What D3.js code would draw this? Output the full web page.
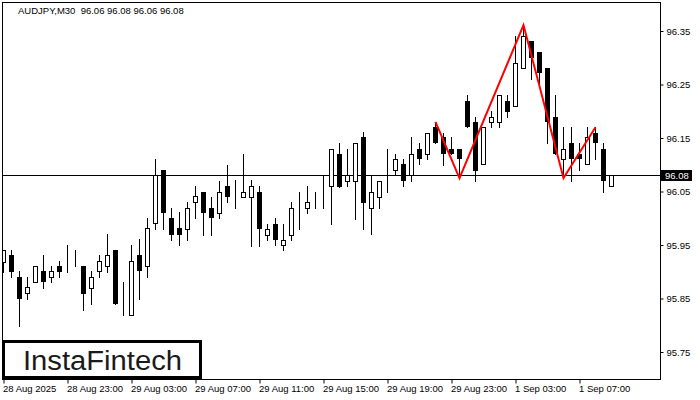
<!DOCTYPE html>
<html>
<head>
<meta charset="utf-8">
<script src="https://cdn.jsdelivr.net/npm/d3@7"></script>
<style>
html,body{margin:0;padding:0;background:#fff;}
svg{display:block;}
text{font-family:"Liberation Sans",Arial,sans-serif;}
</style>
</head>
<body>
<svg id="chart" width="700" height="400"></svg>
<script>
// ---- data (AUDJPY, M30) ----
const opens  = [95.919,95.931,95.890,95.860,95.880,95.901,95.890,95.910,95.910,95.920,
                95.910,95.870,95.901,95.910,95.941,95.830,95.820,95.931,95.910,95.991,
                96.090,96.000,95.981,95.980,96.030,96.050,96.020,96.010,96.060,96.050,
                96.040,96.040,96.050,95.969,95.990,95.950,95.969,96.030,96.020,96.040,
                96.051,96.060,96.120,96.070,96.070,96.151,96.020,96.040,96.081,96.090,
                96.101,96.081,96.130,96.121,96.170,96.151,96.130,96.130,96.220,96.180,
                96.101,96.180,96.180,96.220,96.210,96.280,96.331,96.310,96.281,96.190,
                96.110,96.140,96.120,96.101,96.160,96.130,96.060];
const highs  = [95.941,95.941,95.901,95.890,95.910,95.931,95.910,95.920,95.950,95.941,
                95.910,95.901,95.931,95.971,95.941,95.881,95.950,95.961,96.000,96.111,
                96.090,96.020,96.011,96.030,96.060,96.050,96.040,96.070,96.100,96.071,
                96.121,96.071,96.060,95.990,96.000,95.990,96.030,96.050,96.060,96.050,
                96.081,96.130,96.140,96.130,96.140,96.161,96.081,96.070,96.130,96.120,
                96.110,96.151,96.140,96.160,96.180,96.160,96.151,96.130,96.230,96.190,
                96.170,96.200,96.230,96.230,96.341,96.358,96.331,96.310,96.281,96.230,
                96.170,96.170,96.140,96.170,96.170,96.140,96.080];
const lows   = [95.900,95.890,95.799,95.850,95.880,95.870,95.880,95.890,95.900,95.910,
                95.829,95.840,95.890,95.900,95.840,95.820,95.820,95.850,95.890,95.980,
                95.980,95.960,95.950,95.960,96.000,95.969,95.969,96.000,96.030,96.019,
                96.040,95.948,95.948,95.960,95.950,95.940,95.960,95.980,96.010,96.019,
                96.020,95.989,96.059,96.060,95.999,95.980,95.970,96.020,96.050,96.081,
                96.060,96.070,96.101,96.110,96.140,96.100,96.120,96.075,96.170,96.070,
                96.101,96.170,96.170,96.190,96.210,96.280,96.260,96.250,96.140,96.121,
                96.075,96.070,96.090,96.101,96.110,96.050,96.060];
const closes = [95.941,95.900,95.850,95.871,95.910,95.880,95.901,95.900,95.911,95.920,
                95.859,95.890,95.920,95.931,95.840,95.830,95.920,95.901,95.981,96.080,
                96.010,95.969,95.969,96.020,96.041,96.010,96.000,96.050,96.040,96.050,
                96.050,96.060,95.980,95.980,95.960,95.960,96.020,96.030,96.030,96.040,
                96.051,96.130,96.059,96.080,96.140,96.029,96.050,96.070,96.081,96.110,
                96.070,96.121,96.110,96.160,96.140,96.121,96.121,96.110,96.170,96.089,
                96.170,96.190,96.230,96.199,96.291,96.340,96.300,96.271,96.180,96.121,
                96.130,96.110,96.110,96.151,96.140,96.070,96.080];

// head & shoulders pattern points: [bar index, price]
const patternIdx    = [54, 57, 65, 70, 74];
const patternPrices = [96.18, 96.075, 96.361, 96.075, 96.17];

const currentPrice = 96.08;
const yTicks = [95.75, 95.85, 95.95, 96.05, 96.15, 96.25, 96.35];
const xTickIdx = [0, 8, 16, 24, 32, 40, 48, 56, 64, 72];
const xTickLabels = ["28 Aug 2025","28 Aug 23:00","29 Aug 03:00","29 Aug 07:00","29 Aug 11:00",
                     "29 Aug 15:00","29 Aug 19:00","29 Aug 23:00","1 Sep 03:00","1 Sep 07:00"];
const title = "AUDJPY,M30  96.06 96.08 96.06 96.08";

// ---- drawing ----
const svg = d3.select("#chart");
const plot = {left: 2.5, top: 2.5, right: 660.5, bottom: 379.5};

const x = d3.scaleLinear().domain([0, opens.length - 1]).range([3.5, 3.5 + 8 * (opens.length - 1)]);
const y = d3.scaleLinear().domain([95.75, 96.35]).range([352, 31]);
const py = v => Math.round(y(v));

svg.append("clipPath").attr("id","pc").append("rect")
  .attr("x", plot.left).attr("y", plot.top)
  .attr("width", plot.right - plot.left).attr("height", plot.bottom - plot.top);

const g = svg.append("g").attr("clip-path","url(#pc)");

// current price line
g.append("line")
  .attr("x1", plot.left).attr("x2", plot.right)
  .attr("y1", py(currentPrice) + 0.5).attr("y2", py(currentPrice) + 0.5)
  .attr("stroke","#000").attr("stroke-width",1);

const bars = d3.range(opens.length);
// wicks
g.selectAll("line.wick").data(bars).join("line").attr("class","wick")
  .attr("x1", i => x(i)).attr("x2", i => x(i))
  .attr("y1", i => py(highs[i])).attr("y2", i => py(lows[i]) + 1)
  .attr("stroke","#000").attr("stroke-width",1);

// bodies
g.selectAll("rect.body").data(bars).join("rect").attr("class","body")
  .each(function(i){
    const o = opens[i], c = closes[i];
    const top = py(Math.max(o,c)), bot = py(Math.min(o,c));
    const sel = d3.select(this);
    if (c >= o) {
      sel.attr("x", x(i) - 2).attr("y", top + 0.5)
         .attr("width", 4).attr("height", Math.max(bot - top, 0))
         .attr("fill","#fff").attr("stroke","#000").attr("stroke-width",1);
    } else {
      sel.attr("x", x(i) - 2.5).attr("y", top)
         .attr("width", 5).attr("height", Math.max(bot - top, 1))
         .attr("fill","#000");
    }
  });

// pattern
const line = d3.line().x(d => x(d[0])).y(d => y(d[1]));
g.append("path")
  .datum(patternIdx.map((d,k) => [d, patternPrices[k]]))
  .attr("d", line).attr("fill","none")
  .attr("stroke","#ff0000").attr("stroke-width",2).attr("stroke-linejoin","miter");

// frame
svg.append("rect")
  .attr("x", plot.left).attr("y", plot.top)
  .attr("width", plot.right - plot.left).attr("height", plot.bottom - plot.top)
  .attr("fill","none").attr("stroke","#000").attr("stroke-width",1);

// y axis
const yAxis = d3.axisRight(y).tickValues(yTicks).tickSize(3).tickPadding(3)
  .tickFormat(d3.format(".2f"));
const ya = svg.append("g").attr("transform", `translate(${plot.right},0)`).call(yAxis);
ya.select(".domain").remove();
ya.selectAll(".tick line").attr("stroke","#000");
ya.selectAll(".tick text").attr("font-size", 9.5).attr("fill","#000")
  .attr("font-family","Liberation Sans, Arial, sans-serif");

// current price label
svg.append("rect").attr("x", 661).attr("y", py(currentPrice) - 5)
  .attr("width", 31).attr("height", 11).attr("fill","#000");
svg.append("text").attr("x", 665).attr("y", py(currentPrice) + 4)
  .attr("font-size", 9.5).attr("fill","#fff").text(d3.format(".2f")(currentPrice));

// x axis
const xAxis = d3.axisBottom(x).tickValues(xTickIdx).tickSize(4).tickPadding(2)
  .tickFormat((d,k) => xTickLabels[k]);
const xa = svg.append("g").attr("transform", `translate(0,${plot.bottom})`).call(xAxis);
xa.select(".domain").remove();
xa.selectAll(".tick line").attr("stroke","#000");
xa.selectAll(".tick text").attr("font-size", 9.5).attr("fill","#000")
  .attr("text-anchor","start").attr("x",-1)
  .attr("font-family","Liberation Sans, Arial, sans-serif");

// title
svg.append("text").attr("x", 18).attr("y", 14).attr("font-size", 9.5).attr("fill","#000")
  .attr("xml:space","preserve").style("white-space","pre").text(title);

// logo
svg.append("rect").attr("x", 3.5).attr("y", 341.5).attr("width", 197).attr("height", 36)
  .attr("fill","#fff").attr("stroke","#000").attr("stroke-width",3);
svg.append("text").attr("x", 23).attr("y", 369.5)
  .attr("font-family","Inter, Lato, sans-serif").attr("font-weight",500)
  .attr("font-size", 27).attr("fill","#1a1a1a")
  .attr("textLength", 159).attr("lengthAdjust","spacingAndGlyphs")
  .text("InstaFintech");
</script>
</body>
</html>
